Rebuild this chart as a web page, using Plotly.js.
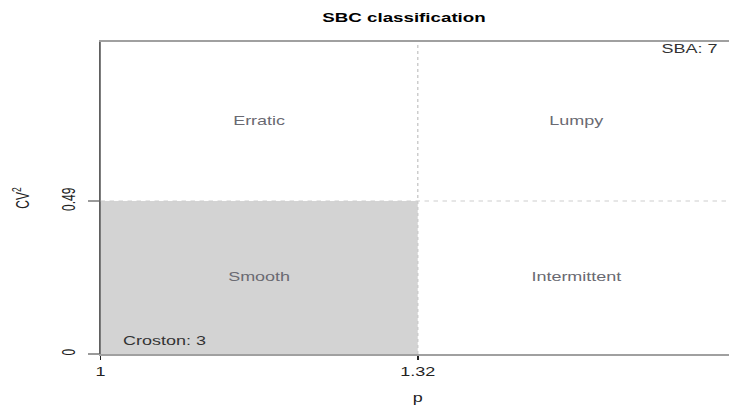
<!DOCTYPE html>
<html>
<head>
<meta charset="utf-8">
<script src="https://cdn.plot.ly/plotly-3.0.1.min.js"></script>
<style>
  html, body { margin: 0; padding: 0; overflow: hidden; background: #fff; width: 729px; height: 405px; }
  /* the chart is laid out narrow and widened horizontally */
  #chart { width: 490px; height: 405px; transform: scaleX(1.5); transform-origin: 0 0; }
</style>
</head>
<body>
<div id="chart"></div>
<script>
// SBC demand classification: p (inter-demand interval) against CV^2
const pLimits = [1, 1.64];
const cv2Limits = [0, 1];
const pCut = 1.32;
const cv2Cut = 0.49;
const xTickVals = [1, 1.32];
const xTickText = ['1', '1.32'];
const yTickVals = [0, 0.49];
const yTickText = ['0', '0.49'];
const classNames = ['Erratic', 'Lumpy', 'Smooth', 'Intermittent'];
const methodNames = ['SBA', 'Croston'];
const methodCounts = [7, 3];

const SX = 1.5;                // horizontal widening of the page
const FONT = 'Liberation Sans, Arial, sans-serif';
const mid = (a, b) => (a + b) / 2;

// each class label sits in the centre of its quadrant
const classX = [mid(pLimits[0], pCut), mid(pCut, pLimits[1]), mid(pLimits[0], pCut), mid(pCut, pLimits[1])];
const classY = [mid(cv2Cut, cv2Limits[1]), mid(cv2Cut, cv2Limits[1]), mid(cv2Limits[0], cv2Cut), mid(cv2Limits[0], cv2Cut)];

const labels = {
  type: 'scatter',
  mode: 'text',
  x: classX,
  y: classY,
  text: classNames,
  textposition: 'middle center',
  textfont: { family: FONT, size: 12, color: '#6a6a72' },
  hoverinfo: 'skip',
  showlegend: false
};

const layout = {
  width: 490,
  height: 405,
  margin: { l: 101 / SX, r: 0, t: 42, b: 51, pad: 0 },
  paper_bgcolor: '#fff',
  plot_bgcolor: '#fff',
  showlegend: false,
  font: { family: FONT, size: 12, color: '#222' },
  title: {
    text: 'SBC classification',
    font: { family: FONT, size: 12.5, color: '#000', weight: 'bold' },
    xref: 'container', x: (404 / SX) / 490, xanchor: 'center',
    yref: 'container', y: 1 - 18 / 405, yanchor: 'middle'
  },
  xaxis: {
    range: pLimits,
    tickvals: xTickVals,
    ticktext: xTickText,
    ticks: 'outside', ticklen: 4, tickwidth: 1, tickcolor: '#222',
    ticklabelstandoff: 2,
    showgrid: false, zeroline: false,
    showline: true, mirror: true, linecolor: '#a0a0a0', linewidth: 1.8,
    tickfont: { family: FONT, size: 12, color: '#222' },
    title: { text: 'p', standoff: 19, font: { family: FONT, size: 12, color: '#222' } },
    automargin: false, fixedrange: true
  },
  yaxis: {
    range: cv2Limits,
    tickvals: yTickVals,
    ticktext: yTickText,
    tickangle: -90,
    ticks: 'outside', ticklen: 11 / SX, tickwidth: 1.5, tickcolor: '#9a9a9a',
    ticklabelstandoff: 4,
    showgrid: false, zeroline: false,
    showline: true, mirror: false, linecolor: '#000', linewidth: 0.75,
    tickfont: { family: FONT, size: 12, color: '#222' },
    title: { text: 'CV<sup>2</sup>', standoff: 16, font: { family: FONT, size: 12, color: '#222' } },
    automargin: false, fixedrange: true
  },
  shapes: [
    { type: 'rect', xref: 'x', yref: 'y', x0: pLimits[0], x1: pCut, y0: cv2Limits[0], y1: cv2Cut,
      fillcolor: '#d3d3d3', line: { width: 0 }, layer: 'below' },
    { type: 'line', xref: 'x', yref: 'y', x0: pCut, x1: pCut, y0: cv2Limits[0], y1: cv2Limits[1],
      line: { color: '#cdcdcd', width: 1, dash: 'dot' } },
    { type: 'line', xref: 'x', yref: 'y', x0: pLimits[0], x1: pLimits[1], y0: cv2Cut, y1: cv2Cut,
      line: { color: '#cdcdcd', width: 1, dash: 'dot' } }
  ],
  annotations: [
    { text: methodNames[0] + ': ' + methodCounts[0], xref: 'paper', yref: 'paper',
      x: ((722 - 101) / SX) / (634 / SX), y: (354 - 49) / 312, xanchor: 'right', yanchor: 'middle',
      showarrow: false, font: { family: FONT, size: 12, color: '#333' } },
    { text: methodNames[1] + ': ' + methodCounts[1], xref: 'paper', yref: 'paper',
      x: ((120 - 101) / SX) / (634 / SX), y: (354 - 341) / 312, xanchor: 'left', yanchor: 'middle',
      showarrow: false, font: { family: FONT, size: 12, color: '#333' } }
  ]
};

Plotly.newPlot('chart', [labels], layout, { staticPlot: true, displayModeBar: false });
</script>
</body>
</html>
